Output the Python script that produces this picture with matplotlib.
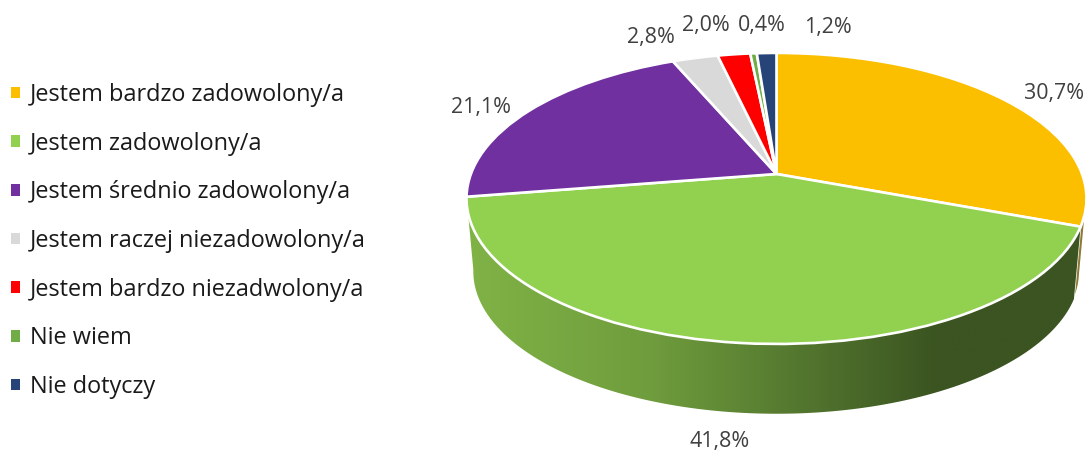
import numpy as np
import matplotlib
matplotlib.use("Agg")
import matplotlib.pyplot as plt
from matplotlib.colors import LinearSegmentedColormap
from matplotlib.patches import Patch, Polygon
from matplotlib.transforms import Transform

categories = ["Jestem bardzo zadowolony/a", "Jestem zadowolony/a", "Jestem średnio zadowolony/a",
              "Jestem raczej niezadowolony/a", "Jestem bardzo niezadwolony/a", "Nie wiem", "Nie dotyczy"]
values = [30.7, 41.8, 21.1, 2.8, 2.0, 0.4, 1.2]
colors = ["#FBBF00", "#92D050", "#7030A0", "#D9D9D9", "#FF0000", "#70AD47", "#264478"]
label_centers = [(1054, 94), (720, 442), (481, 107), (651, 38), (706, 26), (762, 25), (828, 28)]

CX, CY, K, A, C = 776.5, 174.0, 305.6, 141.4, -0.168
ELLIPSE_Y, SCALE, DEPTH = 198.5, 0.978, 73.0


class Perspective(Transform):
    input_dims = output_dims = 2

    def transform_non_affine(self, values):
        pts = np.asarray(values, dtype=float)
        u, v = pts[:, 0], -pts[:, 1]
        w = 1 + C * v
        return np.column_stack([CX + K * u / w, CY + A * v / w])


persp = Perspective()


def top_rim(deg):
    t = np.radians(deg)
    return persp.transform(np.column_stack([np.sin(t), np.cos(t)]))


def bottom_rim(deg):
    p = top_rim(deg)
    return np.column_stack([CX + SCALE * (p[:, 0] - CX),
                            ELLIPSE_Y + SCALE * (p[:, 1] - ELLIPSE_Y) + DEPTH])


def side_path(a, b):
    deg = np.linspace(a, b, 120)
    return np.vstack([top_rim(deg), bottom_rim(deg)[::-1]])


plt.rcParams["font.family"] = ["Open Sans", "DejaVu Sans"]
fig = plt.figure(figsize=(10.86, 4.51), dpi=100)
ax = fig.add_axes([0, 0, 1, 1])

edges = np.concatenate([[0], np.cumsum(values)]) / sum(values) * 360

# thin side of the first slice, just visible at the right
sliver = Polygon(side_path(101, edges[1]), closed=True, facecolor="#8C7A35",
                 edgecolor="white", lw=1.0, zorder=1)
ax.add_patch(sliver)

# gradient side of the second slice
cmap = LinearSegmentedColormap.from_list(
    "side", [(0, "#80B346"), (0.3, "#6F9C3D"), (0.62, "#4A6A2A"), (0.76, "#3B5421"), (1, "#3B5421")])
grad = ax.imshow(np.linspace(0, 1, 256)[None, :], extent=(467, 1086, 430, 190), cmap=cmap,
                 aspect="auto", zorder=2, interpolation="bilinear")
side = Polygon(side_path(edges[1], edges[2]), closed=True, transform=ax.transData, facecolor="none",
               edgecolor="none")
ax.add_patch(side)
grad.set_clip_path(side)

wedges, _ = ax.pie(values, colors=colors, startangle=90, counterclock=False, radius=1,
                   wedgeprops=dict(edgecolor="white", linewidth=1.9, zorder=3))
for w in wedges:
    w.set_transform(persp + ax.transData)
    w.set_zorder(3)

for v, (x, y) in zip(values, label_centers):
    ax.text(x, y, f"{v:.1f}%".replace(".", ","), ha="center", va="center",
            fontsize=15.4, color="#404040", zorder=5)

fs = 16.9
fpx = fs * 100 / 72
handles = [Patch(facecolor=c, edgecolor="none") for c in colors]
ax.legend(handles, categories, loc="upper left", bbox_to_anchor=(11, 83), bbox_transform=ax.transData,
          frameon=False, fontsize=fs, labelcolor="#1A1A1A", borderpad=0, borderaxespad=0,
          handlelength=9 / fpx, handleheight=9 / fpx, handletextpad=10 / fpx,
          labelspacing=(47.67 - fpx * 0.98) / fpx)

ax.set_aspect("auto")
ax.set_xlim(0, 1086)
ax.set_ylim(451, 0)
ax.set_axis_off()
fig.savefig("out.png", dpi=100, facecolor="white")
